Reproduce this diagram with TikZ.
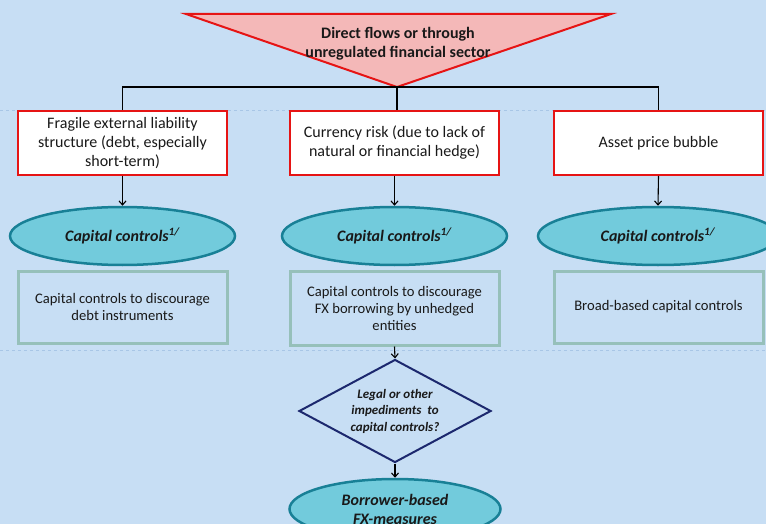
\documentclass[tikz,border=0pt]{standalone}
\usepackage{fontspec}
\setmainfont{Carlito}
\usetikzlibrary{shapes.geometric,arrows.meta}
\definecolor{bgblue}{RGB}{199,222,244}
\definecolor{gridline}{RGB}{168,198,230}
\definecolor{flowred}{RGB}{230,20,20}
\definecolor{pinkfill}{RGB}{244,184,184}
\definecolor{tealfill}{RGB}{114,203,220}
\definecolor{tealline}{RGB}{24,128,150}
\definecolor{sagebox}{RGB}{150,192,186}
\definecolor{navyline}{RGB}{28,40,110}
\definecolor{inkc}{RGB}{25,25,25}
\tikzset{
  riskbox/.style={draw=flowred, line width=2pt, fill=white, minimum width=209pt,
    minimum height=64pt, inner sep=2pt, align=center, text=inkc, font=\fontsize{16}{19}\selectfont},
  policy/.style={draw=tealline, line width=2.5pt, fill=tealfill, ellipse,
    minimum width=225pt, minimum height=58pt, inner sep=1pt, text=inkc,
    font=\fontsize{16}{19}\selectfont\bfseries\itshape},
  toolbox/.style={draw=sagebox, line width=3pt, minimum width=209pt,
    minimum height=72pt, inner sep=2pt, align=center, text=inkc, font=\fontsize{14.6}{17}\selectfont},
  flowarrow/.style={draw=black, line width=1.1pt, -{Straight Barb[length=4pt,width=7pt]}},
  flowline/.style={draw=black, line width=1.6pt},
  rowrule/.style={draw=gridline, line width=0.8pt, dashed}
}
\begin{document}
\begin{tikzpicture}[x=1pt,y=-1pt]
  \useasboundingbox (0,0) rectangle (766,524);
  \clip (0,0) rectangle (766,524);
  \fill[bgblue] (0,0) rectangle (766,524);
  % faint row separators of the page grid
  \draw[rowrule] (0,110) -- (766,110);
  \draw[rowrule] (0,350) -- (766,350);

  % source triangle
  \coordinate (tl) at (186,14);
  \coordinate (tr) at (611,14);
  \coordinate (apex) at (397,87);
  \filldraw[draw=flowred, fill=pinkfill, line width=2pt, line join=miter] (tl) -- (tr) -- (apex) -- cycle;
  \node[align=center, text=inkc, font=\fontsize{16}{19}\selectfont\bfseries] (source) at (398,44)
    {Direct flows or through\\unregulated financial sector};

  % risk boxes
  \node[riskbox] (fragile) at (122.5,143) {Fragile external liability\\structure (debt, especially\\short-term)};
  \node[riskbox] (currency) at (394.5,143) {Currency risk (due to lack of\\natural or financial hedge)};
  \node[riskbox] (asset) at (658.5,143) {Asset price bubble};

  % branches from the source
  \draw[flowline] (fragile.north) |- (apex) -| (asset.north);
  \draw[flowline] (apex) -- (apex |- currency.north);

  % capital-control ellipses
  \node[policy] (capA) at (122.5,236) {Capital controls\textsuperscript{1/}};
  \node[policy] (capB) at (394.5,236) {Capital controls\textsuperscript{1/}};
  \node[policy, minimum width=240pt] (capC) at (658,236) {Capital controls\textsuperscript{1/}};
  \draw[flowarrow] (fragile.south) -- (capA.north);
  \draw[flowarrow] (currency.south) -- (capB.north);
  \draw[flowarrow] (asset.south) -- (capC.north);

  % instrument boxes
  \node[toolbox] (debt) at (122.5,307) {Capital controls to discourage\\debt instruments};
  \node[toolbox, minimum height=74pt] (fxborrow) at (394.5,308) {Capital controls to discourage\\FX borrowing by unhedged\\entities};
  \node[toolbox] (broad) at (658.5,307) {Broad-based capital controls};

  % impediment test
  \node[diamond, draw=navyline, line width=2pt, aspect=1.86, minimum width=192pt,
    minimum height=103pt, inner sep=0pt, align=center, text=inkc,
    font=\fontsize{13}{16.5}\selectfont\bfseries\itshape] (legal) at (395,411)
    {Legal or other\\impediments\ \ to\\capital controls?};
  \draw[flowarrow] (fxborrow.south) -- (legal.north);

  \node[policy, minimum width=211pt, minimum height=60pt, align=center,
    font=\fontsize{16}{19}\selectfont\bfseries\itshape] (borrower) at (395,509)
    {Borrower-based\\FX-measures};
  \draw[flowarrow] (legal.south) -- (borrower.north);
\end{tikzpicture}
\end{document}
